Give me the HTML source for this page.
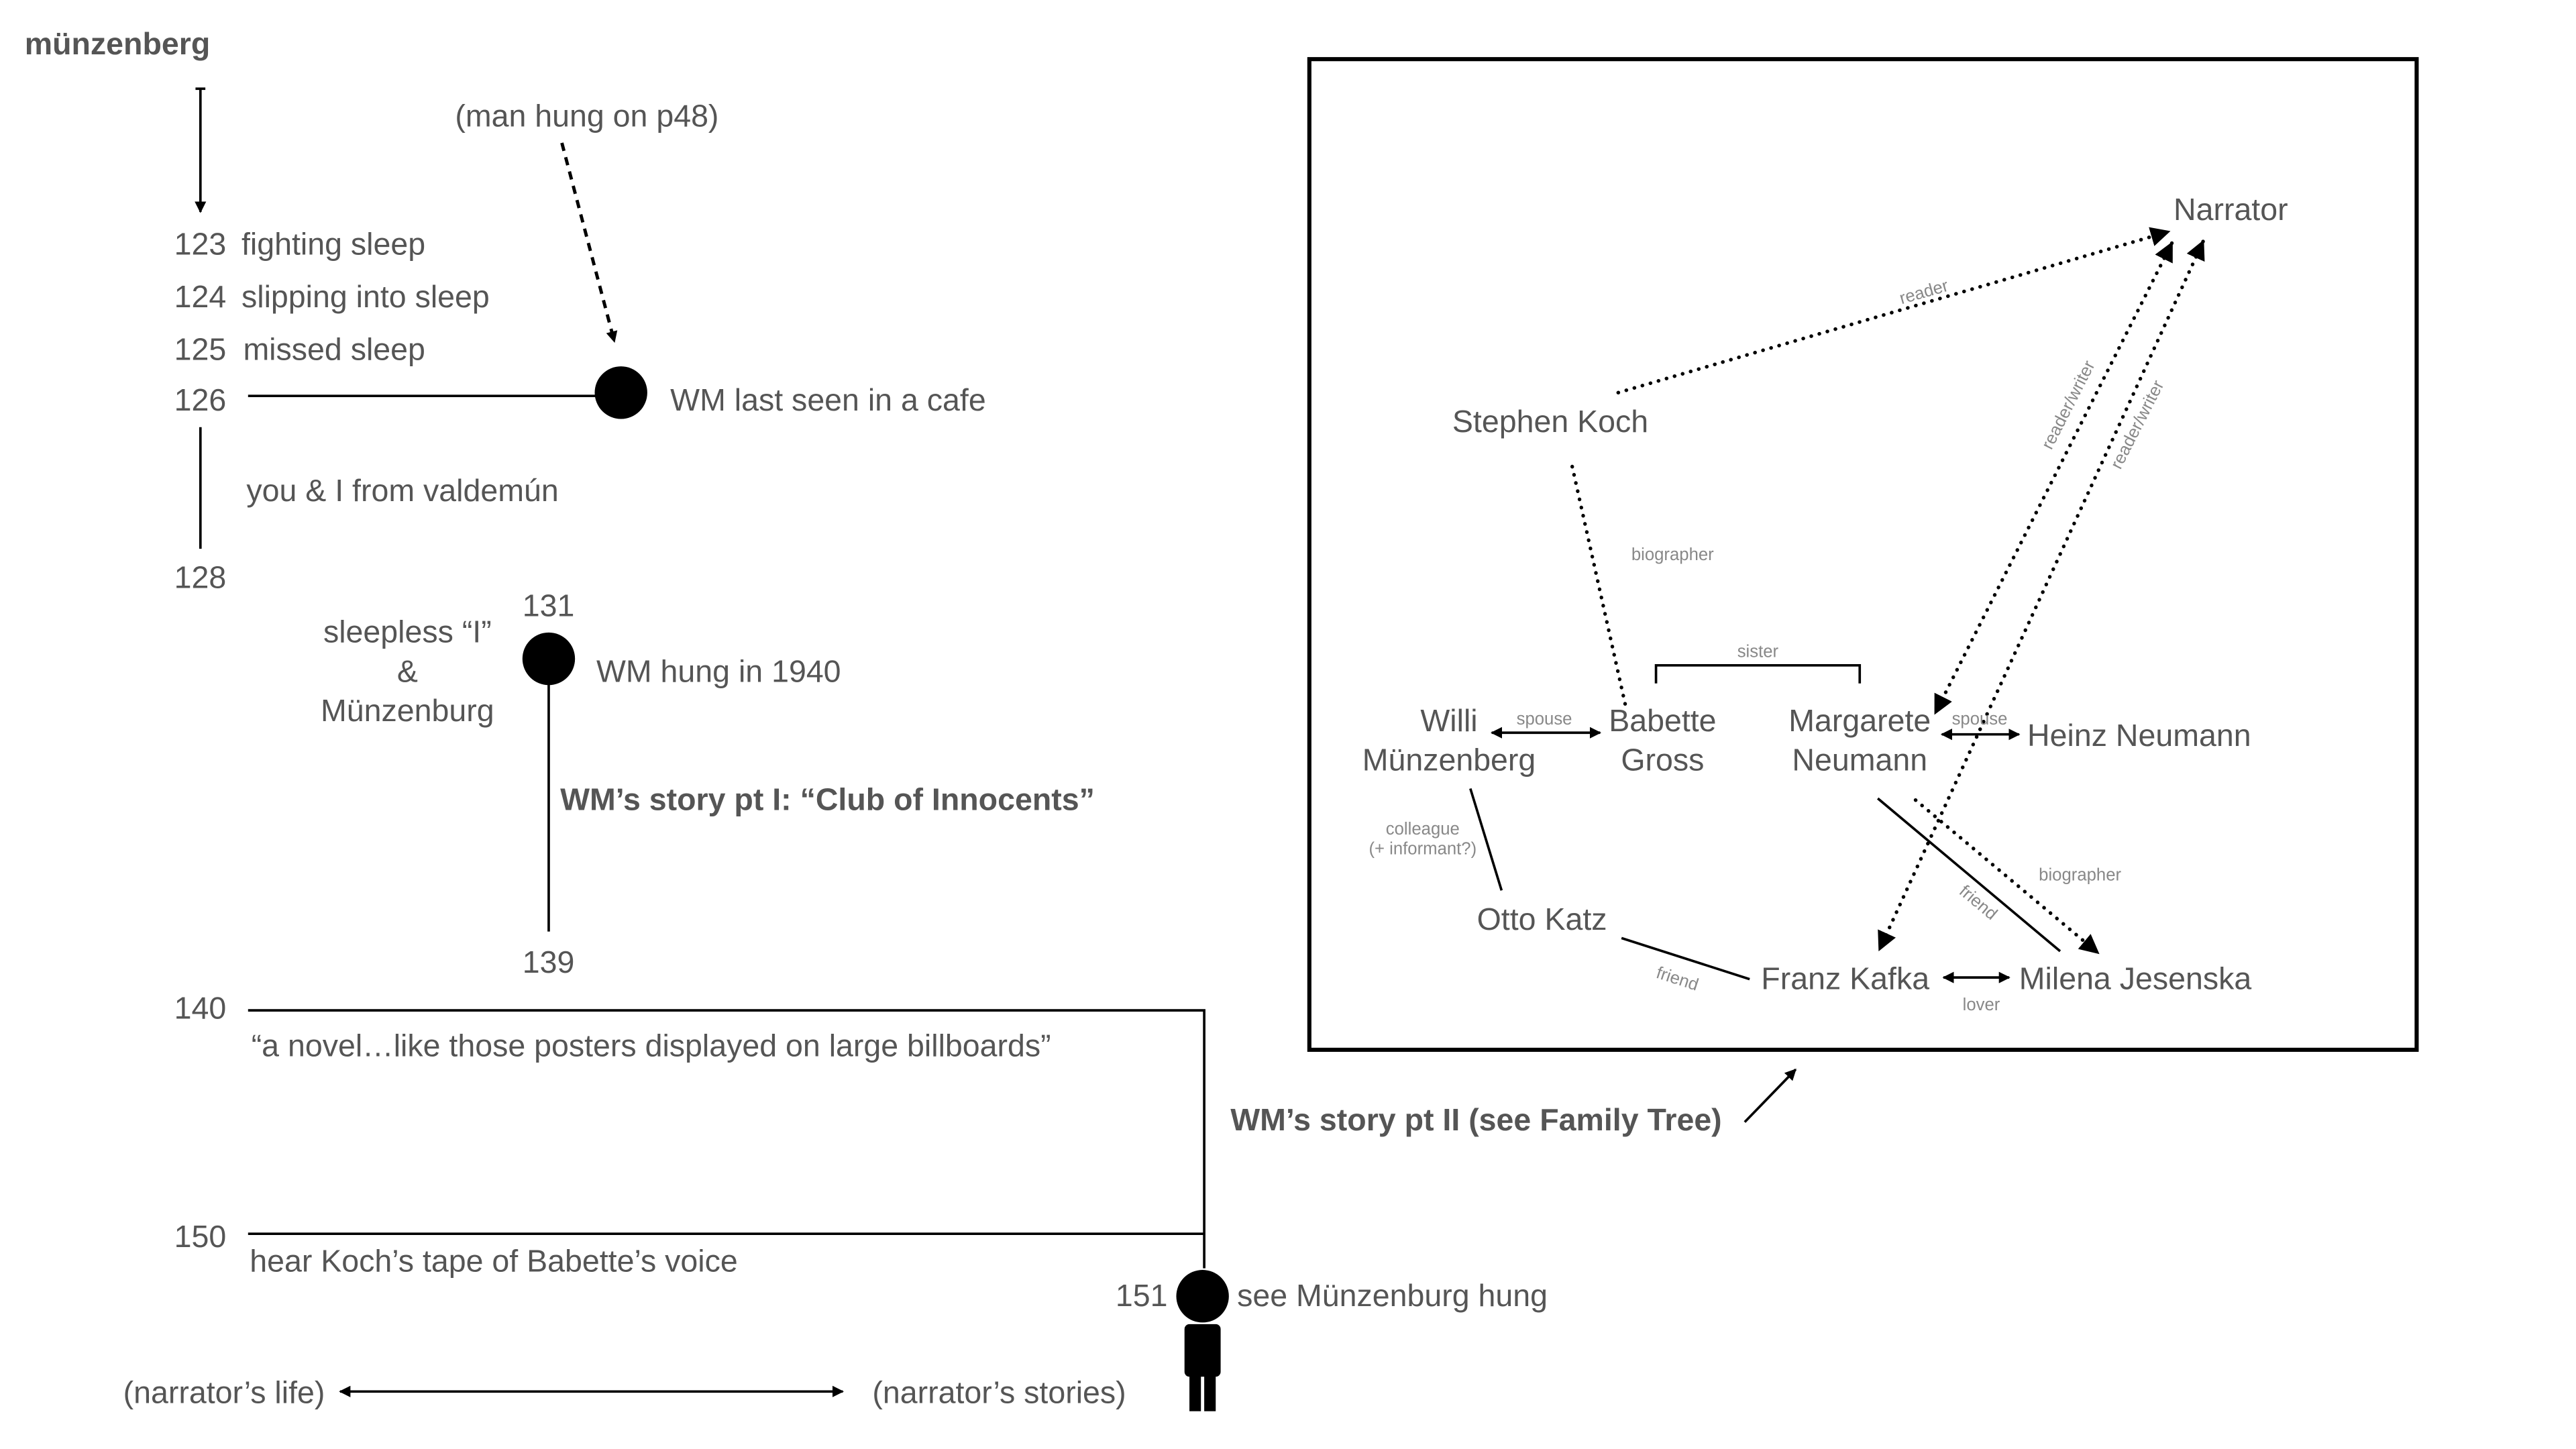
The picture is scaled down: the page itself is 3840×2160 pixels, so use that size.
<!DOCTYPE html>
<html><head><meta charset="utf-8"><style>
html,body{margin:0;padding:0;background:#fff;}
svg{display:block;}
text{font-family:"Liberation Sans",sans-serif;fill:#555;}
.m{font-size:19px;}
.s{font-size:10.5px;fill:#888;}
.b{font-weight:bold;}
</style></head><body>
<svg width="3840" height="2160" viewBox="0 0 1568 882" xmlns="http://www.w3.org/2000/svg">
<defs>
<marker id="a" viewBox="0 0 10 10" refX="9" refY="5" markerWidth="7" markerHeight="7" orient="auto-start-reverse" markerUnits="userSpaceOnUse"><path d="M0,0 L10,5 L0,10 z" fill="#000"/></marker>
<marker id="A" viewBox="0 0 10 10" refX="9" refY="5" markerWidth="12" markerHeight="12" orient="auto-start-reverse" markerUnits="userSpaceOnUse"><path d="M0,0 L10,5 L0,10 z" fill="#000"/></marker>
</defs>
<g stroke="#000" fill="none" stroke-width="1.5">
<line x1="119" y1="54" x2="125" y2="54"/>
<line x1="122" y1="54" x2="122" y2="129" marker-end="url(#a)"/>
<line x1="342" y1="87" x2="374" y2="208" stroke-dasharray="5,4" stroke-width="2" marker-end="url(#a)"/>
<line x1="151" y1="241" x2="365" y2="241"/>
<line x1="122" y1="260" x2="122" y2="334"/>
<line x1="334" y1="410" x2="334" y2="567"/>
<polyline points="151,615 733,615 733,772"/>
<line x1="151" y1="751" x2="733" y2="751"/>
<line x1="207" y1="847" x2="513" y2="847" marker-start="url(#a)" marker-end="url(#a)"/>
<line x1="1062" y1="683" x2="1093" y2="651" marker-end="url(#a)"/>
<rect x="797" y="36" width="674" height="603" stroke-width="2.5"/>
<g stroke-dasharray="0.1,5" stroke-width="2.2" stroke-linecap="round">
<line x1="985" y1="239" x2="1320" y2="141" marker-end="url(#A)"/>
<line x1="1322" y1="148" x2="1178" y2="434" marker-start="url(#A)" marker-end="url(#A)"/>
<line x1="1341" y1="147" x2="1144" y2="578" marker-start="url(#A)" marker-end="url(#A)"/>
<line x1="957" y1="284" x2="990" y2="432"/>
<line x1="1166" y1="487" x2="1277" y2="580" marker-end="url(#A)"/>
</g>
<polyline points="1008,416 1008,405 1132,405 1132,416"/>
<line x1="908" y1="446" x2="974" y2="446" marker-start="url(#a)" marker-end="url(#a)"/>
<line x1="1182" y1="447" x2="1229" y2="447" marker-start="url(#a)" marker-end="url(#a)"/>
<line x1="895" y1="480" x2="914" y2="542"/>
<line x1="987" y1="571" x2="1065" y2="596"/>
<line x1="1143" y1="486" x2="1254" y2="579"/>
<line x1="1183" y1="595" x2="1223" y2="595" marker-start="url(#a)" marker-end="url(#a)"/>
</g>
<circle cx="378" cy="239" r="16" fill="#000"/>
<circle cx="334" cy="401" r="16" fill="#000"/>
<circle cx="732" cy="789" r="16" fill="#000"/>
<rect x="721" y="806" width="22" height="32" rx="3" fill="#000"/>
<rect x="724" y="832" width="7" height="27" fill="#000"/>
<rect x="733" y="832" width="7" height="27" fill="#000"/>

<text class="m b" x="15" y="33">münzenberg</text>
<text class="m" x="277" y="77">(man hung on p48)</text>
<text class="m" x="106" y="155">123</text><text class="m" x="147" y="155">fighting sleep</text>
<text class="m" x="106" y="187">124</text><text class="m" x="147" y="187">slipping into sleep</text>
<text class="m" x="106" y="219">125</text><text class="m" x="148" y="219">missed sleep</text>
<text class="m" x="106" y="250">126</text>
<text class="m" x="408" y="250">WM last seen in a cafe</text>
<text class="m" x="150" y="305">you &amp; I from valdemún</text>
<text class="m" x="106" y="358">128</text>
<text class="m" x="318" y="375">131</text>
<text class="m" x="248" y="391" text-anchor="middle">sleepless “I”</text>
<text class="m" x="248" y="415" text-anchor="middle">&amp;</text>
<text class="m" x="248" y="439" text-anchor="middle">Münzenburg</text>
<text class="m" x="363" y="415">WM hung in 1940</text>
<text class="m b" x="341" y="493">WM’s story pt I: “Club of Innocents”</text>
<text class="m" x="318" y="592">139</text>
<text class="m" x="106" y="620">140</text>
<text class="m" x="153" y="643">“a novel…like those posters displayed on large billboards”</text>
<text class="m" x="106" y="759">150</text>
<text class="m" x="152" y="774">hear Koch’s tape of Babette’s voice</text>
<text class="m" x="679" y="795">151</text>
<text class="m" x="753" y="795">see Münzenburg hung</text>
<text class="m" x="75" y="854">(narrator’s life)</text>
<text class="m" x="531" y="854">(narrator’s stories)</text>
<text class="m b" x="749" y="688">WM’s story pt II (see Family Tree)</text>

<text class="m" x="1323" y="134">Narrator</text>
<text class="m" x="884" y="263">Stephen Koch</text>
<text class="m" x="882" y="445" text-anchor="middle">Willi</text>
<text class="m" x="882" y="469" text-anchor="middle">Münzenberg</text>
<text class="m" x="1012" y="445" text-anchor="middle">Babette</text>
<text class="m" x="1012" y="469" text-anchor="middle">Gross</text>
<text class="m" x="1132" y="445" text-anchor="middle">Margarete</text>
<text class="m" x="1132" y="469" text-anchor="middle">Neumann</text>
<text class="m" x="1234" y="454">Heinz Neumann</text>
<text class="m" x="899" y="566">Otto Katz</text>
<text class="m" x="1072" y="602">Franz Kafka</text>
<text class="m" x="1229" y="602">Milena Jesenska</text>

<text class="s" x="1172" y="181" text-anchor="middle" transform="rotate(-16 1172 181)">reader</text>
<text class="s" x="1262" y="248" text-anchor="middle" transform="rotate(-63 1262 248)">reader/writer</text>
<text class="s" x="1304" y="260" text-anchor="middle" transform="rotate(-63 1304 260)">reader/writer</text>
<text class="s" x="993" y="341">biographer</text>
<text class="s" x="1070" y="400" text-anchor="middle">sister</text>
<text class="s" x="940" y="441" text-anchor="middle">spouse</text>
<text class="s" x="1205" y="441" text-anchor="middle">spouse</text>
<text class="s" x="866" y="508" text-anchor="middle">colleague</text>
<text class="s" x="866" y="520" text-anchor="middle">(+ informant?)</text>
<text class="s" x="1020" y="599" text-anchor="middle" transform="rotate(18 1020 599)">friend</text>
<text class="s" x="1202" y="552" text-anchor="middle" transform="rotate(40 1202 552)">friend</text>
<text class="s" x="1241" y="536">biographer</text>
<text class="s" x="1206" y="615" text-anchor="middle">lover</text>
</svg>
</body></html>
